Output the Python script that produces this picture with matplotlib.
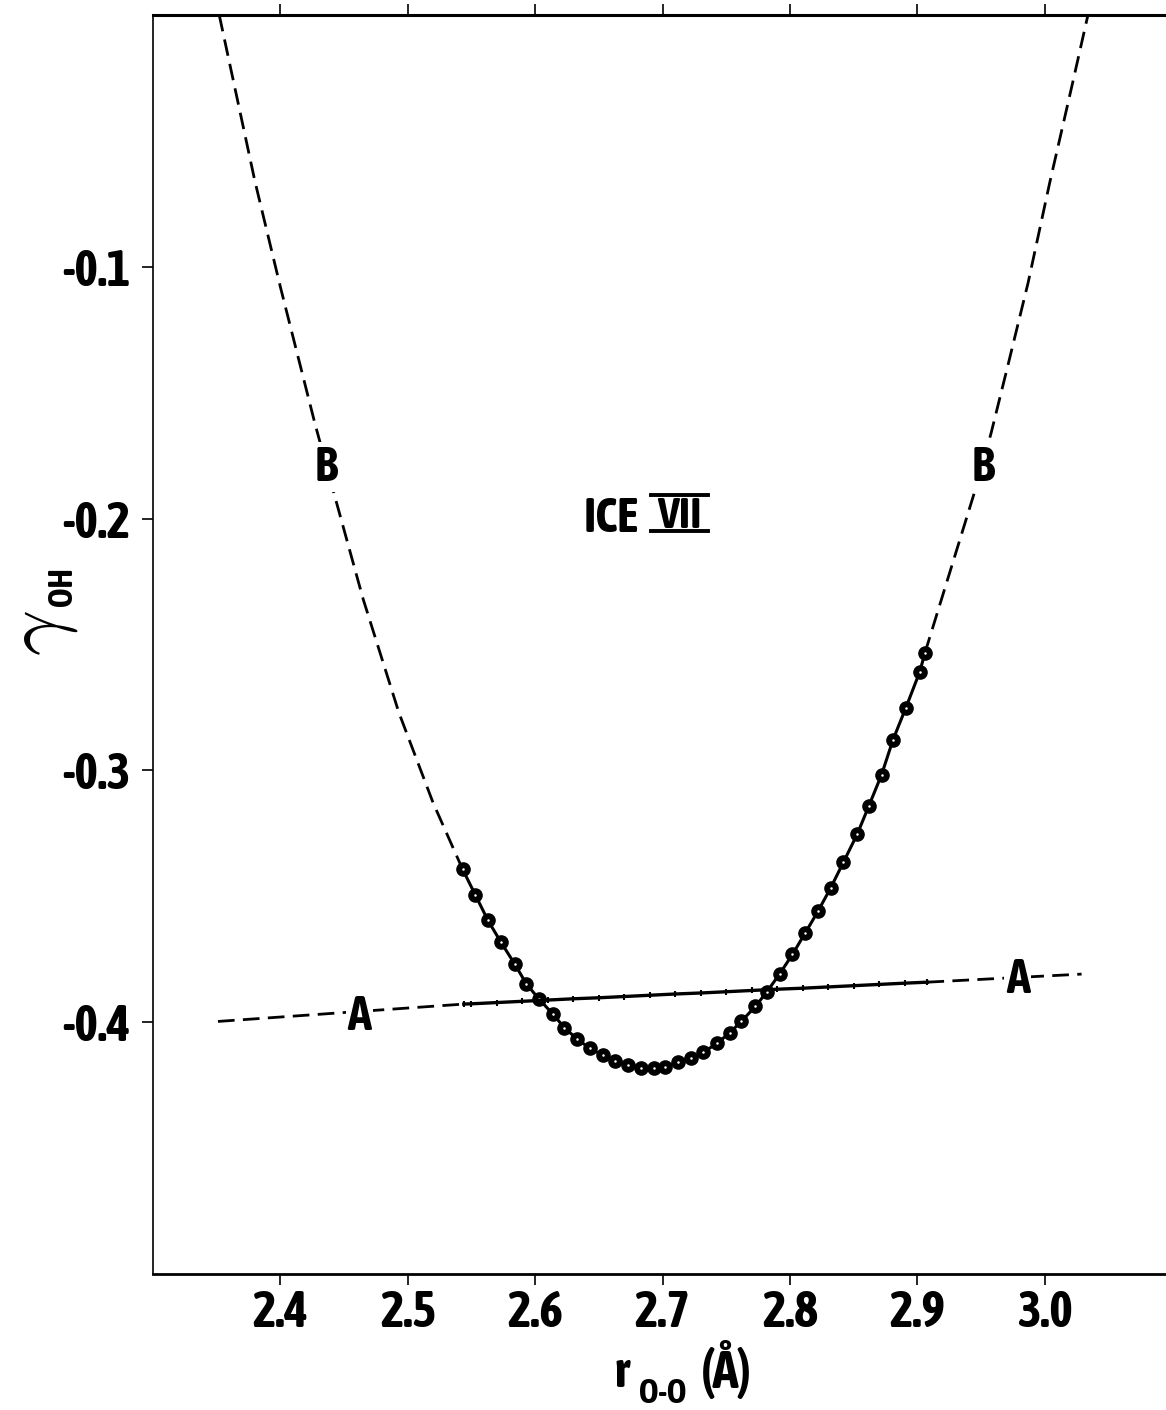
import matplotlib
matplotlib.use('Agg')
import matplotlib.pyplot as plt
from matplotlib.lines import Line2D
from matplotlib import font_manager

W, H = 1166, 1410

# the original lettering is a condensed bold sans; use one if installed
_cond = [f for f in font_manager.fontManager.ttflist
         if f.stretch in ('condensed', 'semi-condensed', 'extra-condensed')
         or 'Condensed' in f.name or 'Narrow' in f.name]
_cond.sort(key=lambda f: (f.weight not in ('bold', 700), f.name))
if _cond:
    BOLD = [_cond[0].name, 'Liberation Sans', 'DejaVu Sans']
    STRETCH = _cond[0].stretch if isinstance(_cond[0].stretch, str) else 'condensed'
else:
    BOLD = ['Liberation Sans', 'DejaVu Sans']
    STRETCH = 'normal'

# curve B: calculated points (dots joined by the solid line)
b_dot_x = [2.543, 2.553, 2.563, 2.573, 2.584, 2.593, 2.603, 2.614, 2.623, 2.633,
           2.643, 2.653, 2.663, 2.673, 2.683, 2.693, 2.702, 2.712, 2.722, 2.732,
           2.743, 2.753, 2.762, 2.773, 2.782, 2.792, 2.802, 2.812, 2.822, 2.832,
           2.842, 2.853, 2.862, 2.872, 2.881, 2.891, 2.902, 2.906]
b_dot_y = [-0.3392, -0.3494, -0.3596, -0.3681, -0.3769, -0.3847, -0.3908, -0.3968,
           -0.4022, -0.4067, -0.4104, -0.4131, -0.4155, -0.4170, -0.4180, -0.4182,
           -0.4176, -0.4160, -0.4144, -0.4120, -0.4083, -0.4041, -0.3996, -0.3937,
           -0.3879, -0.3808, -0.3731, -0.3646, -0.3560, -0.3467, -0.3365, -0.3252,
           -0.3141, -0.3017, -0.2878, -0.2752, -0.2608, -0.2534]

# curve B: dashed continuation on both sides
b_left_x = [2.352, 2.380, 2.400, 2.427, 2.441, 2.465, 2.493, 2.520, 2.543]
b_left_y = [0.000, -0.066, -0.108, -0.162, -0.188, -0.232, -0.277, -0.313, -0.3392]
b_right_x = [2.906, 2.946, 2.958, 2.971, 2.987, 3.004, 3.022, 3.034]
b_right_y = [-0.2534, -0.1878, -0.1660, -0.1395, -0.1064, -0.0666, -0.0269, 0.000]

# curve A: solid middle part with small marks, dashed ends
a_x = [2.544, 2.55, 2.57, 2.59, 2.61, 2.63, 2.65, 2.67, 2.69, 2.71, 2.73,
       2.75, 2.77, 2.79, 2.81, 2.83, 2.85, 2.87, 2.89, 2.908]
a_y = [-0.3928, -0.3927, -0.3922, -0.3917, -0.3912, -0.3907, -0.3903, -0.3898,
       -0.3893, -0.3888, -0.3884, -0.3879, -0.3874, -0.3869, -0.3865, -0.3860,
       -0.3855, -0.3850, -0.3845, -0.3841]
a_left_x = [2.351, 2.544]
a_left_y = [-0.3997, -0.3928]
a_right_x = [2.908, 3.029]
a_right_y = [-0.3841, -0.3809]

x_ticks = [2.4, 2.5, 2.6, 2.7, 2.8, 2.9, 3.0]
x_labels = ['2.4', '2.5', '2.6', '2.7', '2.8', '2.9', '3.0']
y_ticks = [-0.4, -0.3, -0.2, -0.1]
y_labels = ['-0.4', '-0.3', '-0.2', '-0.1']


def px(x, y):
    return x / W, 1 - y / H


fig = plt.figure(figsize=(W / 100, H / 100), dpi=100)
ax = fig.add_axes([153 / W, 136 / H, 1019 / W, 1259 / H])

dash = (6, 3)
ax.plot(b_left_x, b_left_y, color='black', lw=2.0, dashes=dash)
ax.plot(b_right_x, b_right_y, color='black', lw=2.0, dashes=dash)
ax.plot(b_dot_x, b_dot_y, color='black', lw=2.2, marker='o', ms=9.5,
        mfc='black', mec='black')
ax.plot(b_dot_x, b_dot_y, ls='none', marker='o', ms=0.8, mfc='white', mec='white')

ax.plot(a_left_x, a_left_y, color='black', lw=2.0, dashes=dash)
ax.plot(a_right_x, a_right_y, color='black', lw=2.0, dashes=dash)
ax.plot(a_x, a_y, color='black', lw=2.4, marker='|', ms=5, mew=1.5)

FS = 35
txt = dict(family=BOLD, weight='bold', stretch=STRETCH)
lab = dict(txt, fontsize=FS, ha='center', va='baseline',
           bbox=dict(facecolor='white', edgecolor='none', pad=1))
ax.text(2.436, -0.1850, 'B', **lab)
ax.text(2.952, -0.1850, 'B', **lab)
ax.text(2.462, -0.4030, 'A', **lab)
ax.text(2.979, -0.3885, 'A', **lab)

# ICE VII label, the numeral with bars above and below
ax.text(2.6597, -0.2052, 'ICE', fontsize=FS, ha='center', va='baseline', **txt)
ax.text(2.7132, -0.2036, 'VII', fontsize=FS - 3, ha='center', va='baseline', **txt)
for yy in (494.5, 530.5):
    x0, y0 = px(651, yy)
    x1, _ = px(708, yy)
    fig.add_artist(Line2D([x0, x1], [y0, y0], color='black', lw=2.8))

ax.set_xlim(2.3, 3.1)
ax.set_ylim(-0.5, 0.0)
ax.set_xticks(x_ticks)
ax.set_xticklabels(x_labels)
ax.set_yticks(y_ticks)
ax.set_yticklabels(y_labels)
for t in ax.get_xticklabels() + ax.get_yticklabels():
    t.set_family(BOLD)
    t.set_weight('bold')
    t.set_stretch(STRETCH)
    t.set_fontsize(FS + 1)

ax.tick_params(axis='x', direction='out', length=8, width=1.2, pad=3,
               top=True, labeltop=False)
ax.tick_params(axis='y', direction='out', length=8, width=1.2, pad=8)

ax.spines['right'].set_visible(False)
ax.spines['top'].set_linewidth(2.2)
ax.spines['bottom'].set_linewidth(2.0)
ax.spines['left'].set_linewidth(1.2)

# axis titles
tx = dict(txt, va='baseline')
fig.text(*px(614, 1387), 'r', fontsize=36, ha='left', **tx)
fig.text(*px(639, 1403), 'O-O', fontsize=24, ha='left', **tx)
fig.text(*px(701, 1388), '(Å)', fontsize=38, ha='left', **tx)

fig.text(*px(61, 633), r'$\gamma$', math_fontfamily='cm', fontsize=58, rotation=90,
         rotation_mode='anchor', ha='center', va='baseline')
fig.text(*px(72, 587), 'OH', fontsize=24, rotation=90, rotation_mode='anchor',
         ha='center', va='baseline', **txt)

fig.savefig('out.png', dpi=100)
